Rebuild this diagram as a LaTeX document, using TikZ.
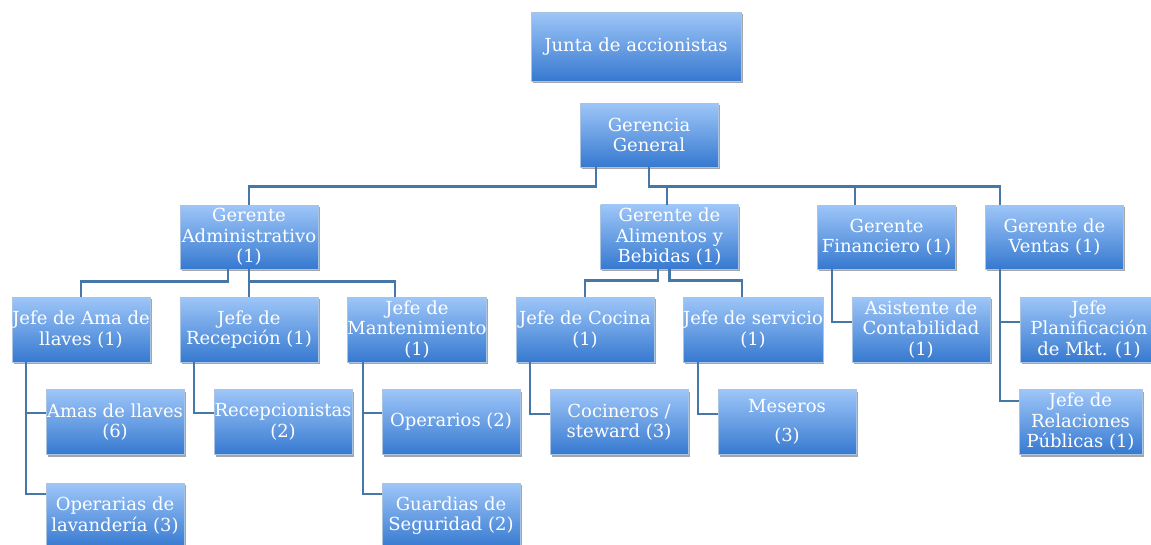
\documentclass[tikz,border=0pt]{standalone}
\usepackage{fontspec}
\setmainfont{DejaVu Serif}
\usetikzlibrary{shadows,calc}

\definecolor{boxtop}{HTML}{9EC6F8}
\definecolor{boxmid}{HTML}{5F9DE8}
\definecolor{boxbot}{HTML}{3679D0}
\definecolor{boxline}{HTML}{A9C3E3}
\definecolor{lineblue}{HTML}{4677A9}

\begin{document}
\begin{tikzpicture}[x=1pt,y=-1pt,node distance=168pt,
    cargo/.style={rectangle, draw=boxline, line width=0.6pt,
      top color=boxtop, middle color=boxmid, bottom color=boxbot,
      minimum width=138pt, minimum height=65pt, inner xsep=0pt,
      text=white, align=center, font=\fontsize{18}{20.5}\selectfont,
      drop shadow={shadow xshift=1.5pt, shadow yshift=-2pt, fill=black, opacity=0.35}},
    conector/.style={draw=lineblue, line width=2.8pt}]

  \fill[white] (0,0) rectangle (1151,544);
  \useasboundingbox (0,0) rectangle (1151,544);

  %% top of the chart
  \node (Junta) [cargo, minimum width=210pt, minimum height=69pt] at (636,46.5) {Junta de accionistas};
  \node (Gerencia) [cargo, minimum height=64pt] at (649,135) {Gerencia\\General};

  %% gerentes
  \node (GerAdmin) [cargo, minimum height=64pt] at (249,237) {Gerente\\Administrativo\\(1)};
  \node (GerAlim) [cargo, minimum height=64pt] at (669.5,237) {Gerente de\\Alimentos y\\Bebidas (1)};
  \node (GerFin) [cargo, minimum height=64pt] at (886.5,237) {Gerente\\Financiero (1)};
  \node (GerVentas) [cargo, minimum height=64pt] at (1054.5,237) {Gerente de\\Ventas (1)};

  %% jefes
  \node (JefeAma) [cargo] at (81,329.5) {Jefe de Ama de\\llaves (1)};
  \node (JefeRecep) [cargo, right of=JefeAma] {Jefe de\\Recepción (1)};
  \node (JefeMant) [cargo, right of=JefeRecep] {Jefe de\\Mantenimiento\\(1)};
  \node (JefeCocina) [cargo, right of=JefeMant] {Jefe de Cocina\\(1)};
  \node (JefeServ) [cargo, right of=JefeCocina] {Jefe de servicio\\(1)};
  \node (Asistente) [cargo, right of=JefeServ] {Asistente de\\Contabilidad\\(1)};
  \node (JefePlan) [cargo, right of=Asistente] {Jefe\\Planificación\\de Mkt. (1)};

  %% personal
  \node (Amas) [cargo] at (115,422) {Amas de llaves\\(6)};
  \node (Recep) [cargo, right of=Amas] {Recepcionistas\\(2)};
  \node (Operarios) [cargo, right of=Recep] {Operarios (2)};
  \node (Cocineros) [cargo, right of=Operarios] {Cocineros /\\steward (3)};
  \node (Meseros) [cargo, right of=Cocineros] {Meseros\\[8pt](3)};
  \node (JefeRel) [cargo, minimum width=123pt] at (1080.5,422) {Jefe de\\Relaciones\\Públicas (1)};

  \node (Operarias) [cargo, node distance=93.5pt, below of=Amas] {Operarias de\\lavandería (3)};
  \node (Guardias) [cargo, node distance=93.5pt, below of=Operarios] {Guardias de\\Seguridad (2)};

  %% conectores
  \coordinate (busG) at ($(Gerencia.south)+(0,19)$);
  \draw[conector] ([xshift=-53pt]Gerencia.south) -- ([xshift=-53pt]Gerencia.south |- busG) -| (GerAdmin.north);
  \draw[conector] (Gerencia.south) -- (busG) -| ([xshift=-54.5pt]GerVentas.north);
  \draw[conector] ([xshift=-2.5pt]GerAlim.north) -- ([xshift=-2.5pt]GerAlim.north |- busG);
  \draw[conector] ([xshift=-31.5pt]GerFin.north) -- ([xshift=-31.5pt]GerFin.north |- busG);

  \coordinate (busA) at ($(GerAdmin.south)+(0,12)$);
  \draw[conector] ([xshift=-21pt]GerAdmin.south) -- ([xshift=-21pt]GerAdmin.south |- busA) -| (JefeAma.north);
  \draw[conector] (GerAdmin.south) -- (JefeRecep.north);
  \draw[conector] (busA) -| ([xshift=-22pt]JefeMant.north);

  \coordinate (busB) at ($(GerAlim.south)+(0,11)$);
  \draw[conector] ([xshift=-11.5pt]GerAlim.south) -- ([xshift=-11.5pt]GerAlim.south |- busB) -| (JefeCocina.north);
  \draw[conector] (GerAlim.south) -- (busB) -| ([xshift=-11pt]JefeServ.north);

  \draw[conector] ([xshift=-54.5pt]GerFin.south) |- ([yshift=7.5pt]Asistente.west);
  \draw[conector] ([xshift=-54.5pt]GerVentas.south) |- ([yshift=21pt]JefeRel.west);
  \draw[conector] ([xshift=-54.5pt]GerVentas.south |- JefePlan.west) ++(0,-7.5) -- ([yshift=7.5pt]JefePlan.west);

  \draw[conector] ([xshift=-55pt]JefeAma.south) |- ([yshift=21.5pt]Operarias.west);
  \draw[conector] ([xshift=-55pt]JefeAma.south |- Amas.west) ++(0,-9) -- ([yshift=9pt]Amas.west);
  \draw[conector] ([xshift=-55pt]JefeRecep.south) |- ([yshift=9pt]Recep.west);
  \draw[conector] ([xshift=-54pt]JefeMant.south) |- ([yshift=21.5pt]Guardias.west);
  \draw[conector] ([xshift=-54pt]JefeMant.south |- Operarios.west) ++(0,-9) -- ([yshift=9pt]Operarios.west);
  \draw[conector] ([xshift=-55pt]JefeCocina.south) |- ([yshift=8pt]Cocineros.west);
  \draw[conector] ([xshift=-55pt]JefeServ.south) |- ([yshift=8pt]Meseros.west);

\end{tikzpicture}
\end{document}
